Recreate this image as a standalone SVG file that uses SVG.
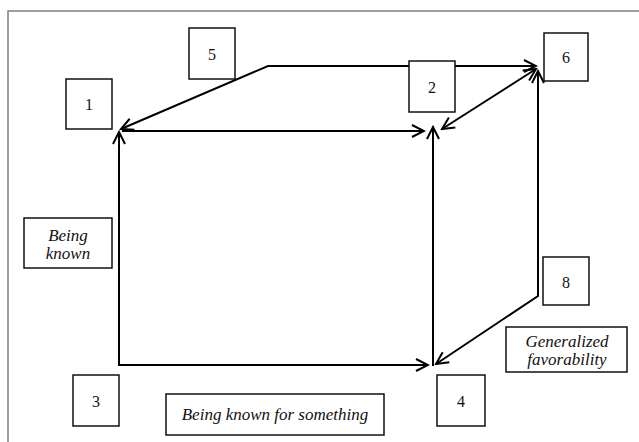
<svg xmlns="http://www.w3.org/2000/svg" width="639" height="442" viewBox="0 0 639 442">
<style>
.box{fill:#fff;stroke:#111;stroke-width:1.5}
.num{font-family:"Liberation Serif","DejaVu Serif",serif;font-size:16px;text-anchor:middle;fill:#111}
.lbl{font-family:"Liberation Serif","DejaVu Serif",serif;font-style:italic;font-size:17px;text-anchor:middle;fill:#111}
.ln{fill:none;stroke:#000;stroke-width:2}
</style>
<defs>
<marker id="ah" viewBox="-14 -8 16 16" refX="0" refY="0" markerWidth="16" markerHeight="16" markerUnits="userSpaceOnUse" orient="auto-start-reverse">
<path d="M-12,-6 L0,0 L-12,6" fill="none" stroke="#000" stroke-width="2"/>
</marker>
</defs>
<rect x="0" y="0" width="639" height="442" fill="#fff"/>
<path d="M8,442 L8,11 L639,11" fill="none" stroke="#808080" stroke-width="1.5"/>
<g id="connectors">
<polyline class="ln" points="121,129 268,66 536,66" marker-start="url(#ah)" marker-end="url(#ah)"/>
<line class="ln" x1="122" y1="131" x2="424" y2="131" marker-end="url(#ah)"/>
<polyline class="ln" points="119,132 119,365 428,365" marker-start="url(#ah)" marker-end="url(#ah)"/>
<line class="ln" x1="433" y1="366" x2="433" y2="127" marker-end="url(#ah)"/>
<line class="ln" x1="442" y1="129" x2="536" y2="69" marker-start="url(#ah)" marker-end="url(#ah)"/>
<polyline class="ln" points="538,71 538,296 436,364" marker-start="url(#ah)" marker-end="url(#ah)"/>
</g>
<g id="n1"><rect class="box" x="66" y="79" width="46" height="50"/><text class="num" x="89" y="110">1</text></g>
<g id="n5"><rect class="box" x="189" y="28" width="46" height="51"/><text class="num" x="212" y="60">5</text></g>
<g id="n2"><rect class="box" x="409" y="61" width="46" height="51"/><text class="num" x="432" y="93">2</text></g>
<g id="n6"><rect class="box" x="544" y="33" width="44" height="48"/><text class="num" x="566" y="63">6</text></g>
<g id="n3"><rect class="box" x="73" y="375" width="46" height="51"/><text class="num" x="96" y="407">3</text></g>
<g id="n4"><rect class="box" x="437" y="375" width="48" height="51"/><text class="num" x="461" y="407">4</text></g>
<g id="n8"><rect class="box" x="543" y="257" width="46" height="48"/><text class="num" x="566" y="288">8</text></g>
<g id="being-known"><rect class="box" x="24" y="218" width="88" height="50"/><text class="lbl" x="68" y="241">Being</text><text class="lbl" x="68" y="259">known</text></g>
<g id="known-for"><rect class="box" x="166" y="394" width="218" height="41"/><text class="lbl" x="275" y="420">Being known for something</text></g>
<g id="favorability"><rect class="box" x="506" y="327" width="121" height="45"/><text class="lbl" x="567" y="347">Generalized</text><text class="lbl" x="567" y="365">favorability</text></g>
</svg>
